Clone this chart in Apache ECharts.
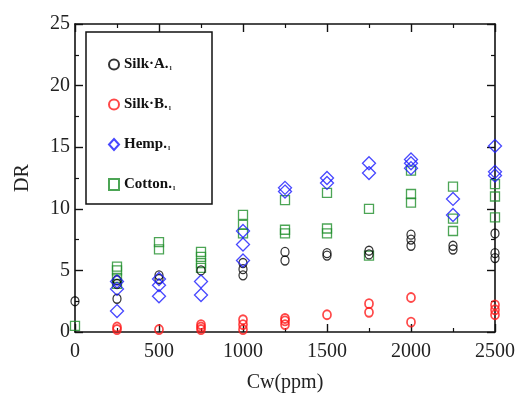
<!DOCTYPE html>
<html>
<head>
<meta charset="utf-8">
<script src="https://cdn.jsdelivr.net/npm/echarts@6/dist/echarts.min.js"></script>
<style>
  html, body { margin: 0; padding: 0; background: #fff; }
  #chart { width: 526px; height: 393px; }
</style>
</head>
<body>
<div id="chart"></div>
<script>
// Fiber concentration Cw (ppm) and measured DR values at each concentration
const cw = [0, 250, 500, 750, 1000, 1250, 1500, 1750, 2000, 2250, 2500];

const silkA = [
  [2.5], [2.7, 3.9, 4.2], [4.3, 4.6], [5.0], [4.6, 5.1, 5.6], [5.8, 6.5],
  [6.2, 6.4], [6.3, 6.6], [7.0, 7.5, 7.9], [6.7, 7.0], [6.0, 6.4, 8.0]
];
const silkB = [
  [], [0.2, 0.4], [0.2], [0.2, 0.4, 0.6], [0.2, 0.6, 1.0], [0.6, 0.9, 1.1],
  [1.4], [1.6, 2.3], [0.8, 2.8], [], [1.4, 1.8, 2.2]
];
const hemp = [
  [], [1.7, 3.5, 4.1], [2.9, 3.8, 4.3], [3.0, 4.1], [5.8, 7.1, 8.2], [11.4, 11.7],
  [12.1, 12.5], [12.9, 13.7], [13.3, 13.7, 14.0], [9.5, 10.8], [12.7, 13.0, 15.1]
];
const cotton = [
  [0.5], [3.9, 4.4, 5.0, 5.3], [6.7, 7.3], [5.2, 5.6, 6.1, 6.5], [8.0, 8.7, 9.5],
  [8.0, 8.3, 10.7], [8.0, 8.4, 11.3], [6.2, 10.0], [10.5, 11.2, 13.1],
  [8.2, 9.2, 11.8], [9.3, 11.0, 12.0]
];

const xTicks = [0, 500, 1000, 1500, 2000, 2500];
const yTicks = [0, 5, 10, 15, 20, 25];

function toPoints(groups) {
  const pts = [];
  groups.forEach((vals, i) => vals.forEach(v => pts.push([cw[i], v])));
  return pts;
}

const serif = 'Liberation Serif';
const axisColor = '#111';

function valueAxis(pos, ticks, showLabels) {
  return {
    type: 'value',
    position: pos,
    min: ticks[0],
    max: ticks[ticks.length - 1],
    interval: ticks[1] - ticks[0],
    axisLine: { show: true, onZero: false, lineStyle: { color: axisColor, width: 1.6 } },
    axisTick: { show: true, inside: true, length: 8, lineStyle: { color: axisColor, width: 1.4 } },
    minorTick: { show: true, splitNumber: 2, length: 4, lineStyle: { color: axisColor, width: 1.2 } },
    splitLine: { show: false },
    axisLabel: {
      show: showLabels,
      formatter: v => String(v),
      fontFamily: serif,
      fontSize: 20,
      color: '#222'
    }
  };
}

const xBottom = valueAxis('bottom', xTicks, true);
xBottom.axisLabel.margin = 10;
xBottom.name = 'Cw(ppm)';
xBottom.nameLocation = 'middle';
xBottom.nameGap = 41;
xBottom.nameTextStyle = { fontFamily: serif, fontSize: 20, color: '#222' };
const xTop = valueAxis('top', xTicks, false);

const yLeft = valueAxis('left', yTicks, true);
yLeft.axisLabel.margin = 5;
yLeft.name = 'DR';
yLeft.nameLocation = 'middle';
yLeft.nameGap = 42;
yLeft.nameTextStyle = { fontFamily: serif, fontSize: 20, color: '#222' };
const yRight = valueAxis('right', yTicks, false);

function series(name, data, symbol, size, color, width) {
  return {
    name: name,
    type: 'scatter',
    data: toPoints(data),
    symbol: symbol,
    symbolSize: size,
    itemStyle: { color: 'rgba(255,255,255,0)', borderColor: color, borderWidth: width },
    emphasis: { disabled: true }
  };
}

const chart = echarts.init(document.getElementById('chart'), null, { renderer: 'canvas' });
chart.setOption({
  animation: false,
  backgroundColor: '#fff',
  grid: { left: 75, right: 31, top: 24, bottom: 61, outerBoundsMode: 'none' },
  xAxis: [xBottom, xTop],
  yAxis: [yLeft, yRight],
  graphic: [{
    type: 'rect',
    shape: { x: 86, y: 32, width: 126, height: 172 },
    style: { fill: '#fff', stroke: '#111', lineWidth: 1.5 },
    z: 5
  }],
  legend: {
    orient: 'vertical',
    left: 103,
    top: 52,
    itemWidth: 10,
    itemHeight: 11,
    itemGap: 25,
    z: 6,
    data: ['Silk·A.', 'Silk·B.', 'Hemp.', 'Cotton.'],
    formatter: n => n + '{m|ı}',
    textStyle: {
      fontFamily: serif,
      fontWeight: 'bold',
      fontSize: 15,
      color: '#111',
      rich: { m: { fontSize: 8, color: '#444', fontFamily: serif, padding: [6, 0, 0, 1] } }
    }
  },
  series: [
    series('Cotton.', cotton, 'rect', 9, '#1f8f2a', 1.3),
    series('Silk·A.', silkA, 'circle', [8, 9], '#000', 1.3),
    series('Silk·B.', silkB, 'circle', [8, 9], '#ff1a1a', 1.8),
    series('Hemp.', hemp, 'diamond', 13, '#1a1aff', 1.3)
  ]
});
</script>
</body>
</html>
